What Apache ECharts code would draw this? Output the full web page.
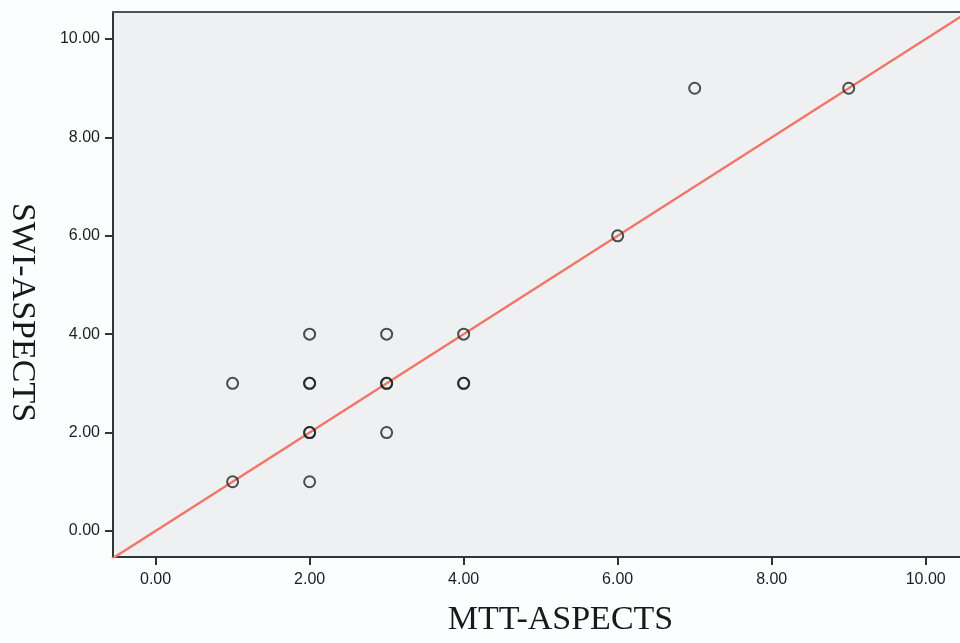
<!DOCTYPE html>
<html>
<head>
<meta charset="utf-8">
<script src="https://cdn.jsdelivr.net/npm/echarts@6/dist/echarts.min.js"></script>
<style>
  html, body { margin: 0; padding: 0; background: #fcfdfe; }
  #chart { width: 960px; height: 643px; }
</style>
</head>
<body>
<div id="chart"></div>
<script>
// Data
const mttScores = [1, 1, 2, 2, 2, 2, 2, 2, 3, 3, 3, 3, 4, 4, 4, 6, 7, 9];
const swiScores = [1, 3, 1, 2, 2, 3, 3, 4, 2, 3, 3, 4, 3, 3, 4, 6, 9, 9];
// Reference line (y = x) end points
const fitLineX = [-0.6, 11.1];
const fitLineY = [-0.6, 11.1];
// Tick values
const xTickValues = [0, 2, 4, 6, 8, 10];
const yTickValues = [0, 2, 4, 6, 8, 10];

const points = mttScores.map((x, i) => [x, swiScores[i]]);
const linePts = fitLineX.map((x, i) => [x, fitLineY[i]]);

const X_MIN = -0.553, X_MAX = 10.445;

const chart = echarts.init(document.getElementById('chart'), null, { renderer: 'canvas' });
chart.setOption({
  backgroundColor: '#fcfdfe',
  animation: false,
  grid: {
    left: 113, top: 12, right: 0, height: 545,
    outerBoundsMode: 'none',
    containLabel: false,
    show: true,
    backgroundColor: '#eef0f1',
    borderWidth: 0
  },
  xAxis: [{
    type: 'value',
    min: X_MIN, max: X_MAX,
    name: 'MTT-ASPECTS',
    nameLocation: 'middle',
    nameGap: 46,
    nameTextStyle: { fontFamily: 'Liberation Serif', fontSize: 34, color: '#151a1a', padding: [0, 0, 0, 48] },
    axisLine: { show: true, onZero: false, lineStyle: { color: '#2d3636', width: 2 } },
    axisTick: { show: true, length: 8, lineStyle: { color: '#2d3636', width: 2 }, customValues: xTickValues },
    axisLabel: {
      customValues: xTickValues,
      margin: 15,
      fontFamily: 'Liberation Sans', fontSize: 16, color: '#1a2020',
      formatter: v => v.toFixed(2)
    },
    splitLine: { show: false }
  }, {
    type: 'value',
    position: 'top',
    min: X_MIN, max: X_MAX,
    axisLine: { show: true, onZero: false, lineStyle: { color: '#4a5555', width: 2 } },
    axisTick: { show: false },
    axisLabel: { show: false },
    splitLine: { show: false }
  }],
  yAxis: {
    type: 'value',
    min: -0.53, max: 10.55,
    name: 'SWI-ASPECTS',
    nameLocation: 'middle',
    nameRotate: -90,
    nameGap: 74,
    nameTextStyle: { fontFamily: 'Liberation Serif', fontSize: 34, color: '#151a1a', padding: [0, 0, 0, 56] },
    axisLine: { show: true, onZero: false, lineStyle: { color: '#2d3636', width: 2 } },
    axisTick: { show: true, length: 8, lineStyle: { color: '#2d3636', width: 2 }, customValues: yTickValues },
    axisLabel: {
      customValues: yTickValues,
      margin: 13,
      fontFamily: 'Liberation Sans', fontSize: 16, color: '#1a2020',
      formatter: v => v.toFixed(2)
    },
    splitLine: { show: false }
  },
  series: [
    {
      type: 'line',
      data: linePts,
      symbol: 'none',
      clip: true,
      lineStyle: { color: '#f07565', width: 2.4 },
      z: 2
    },
    {
      type: 'scatter',
      data: points,
      symbol: 'circle',
      symbolSize: 11,
      itemStyle: { color: 'rgba(0,0,0,0)', borderColor: '#1e2626', borderWidth: 2 },
      z: 3
    }
  ]
});
</script>
</body>
</html>
